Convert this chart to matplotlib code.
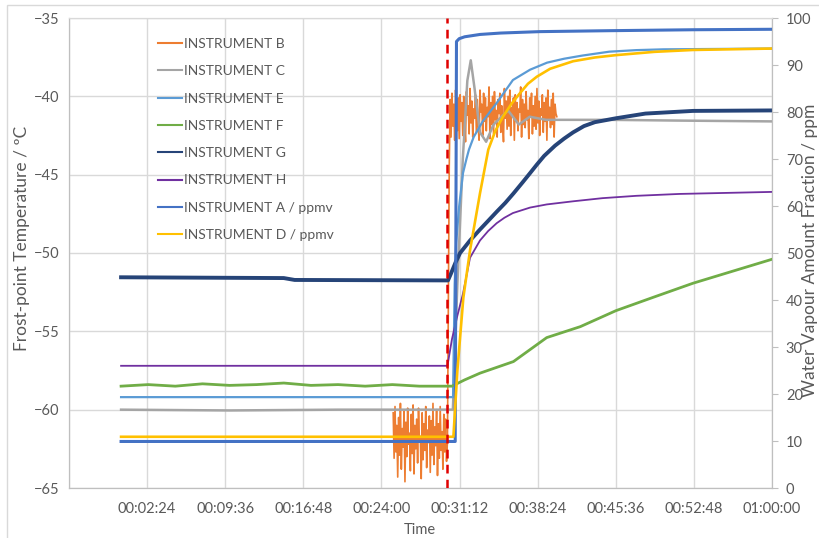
import numpy as np
import matplotlib
matplotlib.use("Agg")
from matplotlib import pyplot as plt
from matplotlib.patches import Rectangle
from matplotlib.ticker import FixedLocator, FuncFormatter

plt.rcParams['font.family'] = ['Lato', 'DejaVu Sans']

# time in seconds from start of run
step_time = 1800

# INSTRUMENT B (noisy, two short sections)
b1_t = np.arange(1505, 1810, 5)
b1_v = [-60.2, -63.1, -59.8, -62.7, -61.0, -64.3, -60.5, -62.9, -59.6, -63.8,
        -61.2, -62.4, -60.1, -64.6, -60.8, -63.0, -59.9, -62.2, -61.5, -63.9,
        -60.3, -62.8, -59.7, -64.1, -61.0, -62.5, -60.6, -63.4, -59.9, -62.0,
        -61.7, -64.4, -60.2, -63.2, -60.9, -62.6, -59.8, -63.7, -61.3, -62.1,
        -60.4, -64.0, -60.7, -62.9, -59.6, -63.5, -61.1, -62.3, -60.0, -64.2,
        -60.9, -63.1, -59.8, -62.6, -61.4, -63.8, -60.3, -62.7, -60.6, -63.3,
        -62.0]
b2_t = np.arange(1815, 2415, 5)
b2_v = [-44.5, -40.2, -42.6, -39.8, -41.9, -40.5, -42.8, -39.6, -41.3, -42.2,
        -40.1, -42.7, -39.9, -41.6, -40.4, -42.5, -40.0, -41.8, -42.9, -39.7,
        -41.2, -40.6, -42.4, -39.5, -41.7, -40.3, -42.6, -40.8, -41.4, -39.9,
        -42.3, -40.2, -41.9, -42.8, -39.6, -41.0, -40.5, -42.5, -39.8, -41.6,
        -40.1, -42.2, -40.7, -41.3, -39.4, -42.7, -40.4, -41.8, -40.0, -42.4,
        -39.7, -41.5, -40.9, -42.6, -40.2, -41.1, -39.8, -42.3, -40.6, -41.7,
        -42.9, -39.5, -41.4, -40.3, -42.1, -40.0, -41.9, -39.6, -42.5, -40.7,
        -41.2, -40.1, -42.8, -39.9, -41.6, -40.4, -42.2, -40.8, -41.0, -39.4,
        -42.6, -40.2, -41.8, -40.5, -42.0, -39.7, -41.5, -40.9, -42.7, -40.1,
        -41.3, -39.8, -42.4, -40.6, -41.9, -40.0, -42.1, -39.5, -41.7, -40.3,
        -42.5, -40.8, -41.2, -39.9, -42.3, -40.4, -41.6, -40.1, -42.8, -39.6,
        -41.4, -40.7, -42.0, -40.2, -41.8, -39.8, -42.6, -40.5, -41.1, -41.3]

# INSTRUMENT C
c_t = [0, 600, 1200, 1835, 1860, 1890, 1915, 1934, 1955, 1985, 2019, 2060,
       2140, 2200, 2260, 2350, 2700, 3100, 3600]
c_v = [-60.0, -60.05, -60.0, -60.0, -52.0, -44.0, -39.0, -37.7, -39.5, -42.3,
       -42.9, -41.8, -40.9, -41.8, -41.3, -41.5, -41.5, -41.55, -41.6]

# INSTRUMENT E
e_t = [0, 1836, 1845, 1853, 1870, 1891, 1910, 1924, 1950, 2000, 2079, 2167,
       2262, 2356, 2450, 2550, 2700, 2850, 3000, 3600]
e_v = [-59.2, -59.2, -52.0, -49.4, -47.0, -44.9, -44.0, -43.4, -42.6, -41.6,
       -40.4, -38.96, -38.3, -37.85, -37.6, -37.4, -37.15, -37.05, -37.0,
       -36.95]

# INSTRUMENT F
f_t = [0, 150, 300, 450, 600, 750, 900, 1050, 1200, 1350, 1500, 1650, 1830,
       1900, 1985, 2170, 2354, 2540, 2737, 2950, 3163, 3400, 3600]
f_v = [-58.5, -58.4, -58.5, -58.35, -58.45, -58.4, -58.3, -58.45, -58.4,
       -58.5, -58.4, -58.5, -58.5, -58.1, -57.67, -56.93, -55.4, -54.7,
       -53.68, -52.8, -51.93, -51.1, -50.4]

# INSTRUMENT G
g_t = [0, 900, 960, 1808, 1825, 1850, 1875, 1930, 1985, 2030, 2078, 2125,
       2170, 2220, 2262, 2300, 2340, 2400, 2450, 2500, 2560, 2620, 2737,
       2900, 3163, 3600]
g_v = [-51.55, -51.6, -51.72, -51.75, -51.3, -50.6, -50.0, -49.2, -48.5,
       -47.95, -47.36, -46.8, -46.2, -45.5, -44.9, -44.35, -43.8, -43.15,
       -42.7, -42.3, -41.9, -41.65, -41.4, -41.1, -40.93, -40.9]

# INSTRUMENT H
h_t = [0, 1805, 1830, 1860, 1891, 1930, 1985, 2030, 2077, 2120, 2167, 2262,
       2354, 2500, 2662, 2850, 3088, 3600]
h_v = [-57.2, -57.2, -55.5, -54.0, -52.6, -50.3, -49.2, -48.6, -48.1,
       -47.75, -47.45, -47.1, -46.9, -46.7, -46.5, -46.35, -46.23, -46.1]

# INSTRUMENT A / ppmv
a_t = [0, 1848, 1855, 1870, 1900, 1985, 2100, 2316, 2700, 3163, 3600]
a_v = [9.9, 9.9, 95.0, 95.6, 96.0, 96.5, 96.8, 97.1, 97.3, 97.5, 97.6]

# INSTRUMENT D / ppmv
d_t = [0, 1838, 1860, 1893, 1930, 1985, 2031, 2070, 2112, 2160, 2206, 2250,
       2299, 2373, 2500, 2620, 2737, 2950, 3163, 3600]
d_v = [10.9, 10.9, 25.0, 40.5, 50.6, 62.7, 72.0, 76.0, 79.0, 81.8, 84.0,
       86.0, 87.5, 89.2, 90.8, 91.6, 92.1, 92.8, 93.2, 93.5]

x_ticks = np.arange(-288, 3601, 432)

fig = plt.figure(figsize=(8.2, 5.38), dpi=100)
ax = fig.add_axes([69 / 820, 1 - 488 / 538, 703 / 820, 470 / 538])
ax2 = ax.twinx()

grid_c = '#D9D9D9'
txt_c = '#595959'

ax.plot(b1_t, b1_v, color='#ED7D31', lw=1.2, zorder=3)
ax.plot(np.concatenate([[b1_t[-1]], b2_t]), [b1_v[-1]] + b2_v,
        color='#ED7D31', lw=1.2, zorder=3, label='INSTRUMENT B')
ax.plot(c_t, c_v, color='#A5A5A5', lw=1.8, zorder=4, label='INSTRUMENT C')
ax.plot(e_t, e_v, color='#5B9BD5', lw=1.6, zorder=5, label='INSTRUMENT E')
ax.plot(f_t, f_v, color='#70AD47', lw=2.0, zorder=6, label='INSTRUMENT F')
ax.plot(g_t, g_v, color='#264478', lw=2.8, zorder=7, label='INSTRUMENT G')
ax.plot(h_t, h_v, color='#7030A0', lw=1.3, zorder=8, label='INSTRUMENT H')
ax2.plot(a_t, a_v, color='#4472C4', lw=2.2, zorder=9, label='INSTRUMENT A / ppmv')
ax2.plot(d_t, d_v, color='#FFC000', lw=1.9, zorder=10, label='INSTRUMENT D / ppmv')
ax2.axvline(step_time, color='#E00000', lw=1.8, ls=(0, (3.5, 2.5)), zorder=11)

ax.set_xlim(-288, 3600)
ax.set_ylim(-65, -35)
ax2.set_ylim(0, 100)
ax.xaxis.set_major_locator(FixedLocator(x_ticks))
ax.yaxis.set_major_locator(FixedLocator(np.arange(-65, -34, 5)))
ax2.yaxis.set_major_locator(FixedLocator(np.arange(0, 101, 10)))


def hms(t, pos):
    if t < 0:
        return ''
    t = int(round(t))
    return '%02d:%02d:%02d' % (t // 3600, (t % 3600) // 60, t % 60)


ax.xaxis.set_major_formatter(FuncFormatter(hms))
ax.grid(True, color=grid_c, lw=1)
ax.set_axisbelow(True)
for a in (ax, ax2):
    for s in a.spines.values():
        s.set_color('#BFBFBF')
    a.spines['top'].set_color(grid_c)
ax.tick_params(axis='both', length=0, colors=txt_c, labelsize=10.5, pad=7)
ax.tick_params(axis='x', pad=10)
ax2.tick_params(axis='y', length=4, color='#BFBFBF', colors=txt_c,
                labelsize=10.5, pad=6)

h1, l1 = ax.get_legend_handles_labels()
h2, l2 = ax2.get_legend_handles_labels()
leg = fig.legend(h1 + h2, l1 + l2, loc='upper left',
                 bbox_to_anchor=(158 / 820, 1 - 38 / 538), frameon=False,
                 fontsize=10, handlelength=1.7, handletextpad=0.15,
                 labelspacing=1.1, borderpad=0, borderaxespad=0)
for t in leg.get_texts():
    t.set_color(txt_c)
for ln in leg.get_lines():
    ln.set_linewidth(1.5)

fig.text(22 / 820, 1 - 238 / 538, 'Frost-point Temperature / ºC',
         rotation=90, ha='center', va='center', fontsize=12.5, color=txt_c)
fig.text(810 / 820, 1 - 250 / 538, 'Water Vapour Amount Fraction / ppm',
         rotation=90, ha='center', va='center', fontsize=12.5, color=txt_c)
fig.text(420 / 820, 1 - 530 / 538, 'Time', ha='center', va='center',
         fontsize=10.5, color=txt_c)

fig.patches.append(Rectangle((7 / 820, -0.01), 1, 1 - 5 / 538 + 0.01,
                             transform=fig.transFigure, fill=False,
                             edgecolor=grid_c, lw=1))

fig.savefig('out.png', dpi=100)
